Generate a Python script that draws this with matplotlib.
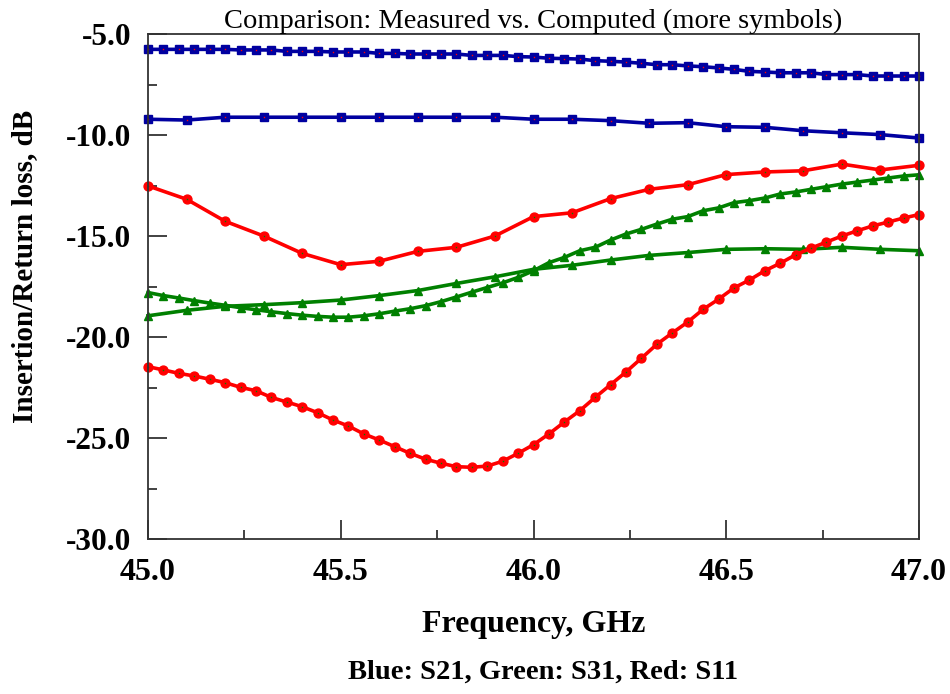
import matplotlib
matplotlib.use("Agg")
import matplotlib.pyplot as plt
from matplotlib.ticker import MultipleLocator, FormatStrFormatter

# ---- data ----
freq_dense = [45.00, 45.04, 45.08, 45.12, 45.16, 45.20, 45.24, 45.28, 45.32, 45.36,
              45.40, 45.44, 45.48, 45.52, 45.56, 45.60, 45.64, 45.68, 45.72, 45.76,
              45.80, 45.84, 45.88, 45.92, 45.96, 46.00, 46.04, 46.08, 46.12, 46.16,
              46.20, 46.24, 46.28, 46.32, 46.36, 46.40, 46.44, 46.48, 46.52, 46.56,
              46.60, 46.64, 46.68, 46.72, 46.76, 46.80, 46.84, 46.88, 46.92, 46.96, 47.00]
freq_sparse = [45.0, 45.1, 45.2, 45.3, 45.4, 45.5, 45.6, 45.7, 45.8, 45.9, 46.0,
               46.1, 46.2, 46.3, 46.4, 46.5, 46.6, 46.7, 46.8, 46.9, 47.0]

s21_computed = [-5.76, -5.76, -5.76, -5.76, -5.76, -5.76, -5.79, -5.79, -5.79, -5.86,
                -5.86, -5.86, -5.89, -5.89, -5.89, -5.96, -5.96, -5.99, -5.99, -5.99,
                -5.99, -6.06, -6.06, -6.06, -6.12, -6.14, -6.20, -6.22, -6.24, -6.32,
                -6.35, -6.39, -6.45, -6.52, -6.52, -6.58, -6.62, -6.68, -6.75, -6.85,
                -6.88, -6.92, -6.92, -6.92, -7.01, -7.01, -7.01, -7.08, -7.08, -7.08, -7.08]
s21_measured = [-9.22, -9.26, -9.12, -9.12, -9.12, -9.12, -9.12, -9.12, -9.12, -9.12, -9.22,
                -9.22, -9.29, -9.42, -9.39, -9.59, -9.62, -9.79, -9.89, -9.98, -10.15]

s31_computed = [-17.80, -17.95, -18.07, -18.20, -18.32, -18.43, -18.55, -18.65, -18.75, -18.84,
                -18.92, -18.98, -19.02, -19.02, -18.95, -18.85, -18.72, -18.60, -18.45, -18.25,
                -18.02, -17.78, -17.55, -17.32, -17.05, -16.72, -16.32, -16.06, -15.73, -15.56,
                -15.20, -14.90, -14.67, -14.41, -14.17, -14.04, -13.75, -13.61, -13.35, -13.25,
                -13.12, -12.92, -12.82, -12.69, -12.56, -12.43, -12.33, -12.23, -12.13, -12.03, -11.97]
s31_measured = [-18.95, -18.68, -18.48, -18.40, -18.30, -18.17, -17.95, -17.70, -17.35, -17.02, -16.65,
                -16.45, -16.19, -15.96, -15.82, -15.66, -15.63, -15.66, -15.56, -15.66, -15.73]

s11_computed = [-21.47, -21.63, -21.80, -21.93, -22.09, -22.26, -22.49, -22.66, -22.99, -23.22,
                -23.45, -23.75, -24.11, -24.41, -24.80, -25.10, -25.43, -25.76, -26.05, -26.25,
                -26.42, -26.45, -26.39, -26.15, -25.76, -25.33, -24.80, -24.21, -23.65, -22.99,
                -22.36, -21.73, -21.05, -20.36, -19.80, -19.26, -18.63, -18.13, -17.57, -17.18,
                -16.72, -16.35, -15.93, -15.60, -15.30, -15.00, -14.74, -14.50, -14.31, -14.11, -13.94]
s11_measured = [-12.52, -13.18, -14.27, -15.00, -15.86, -16.42, -16.25, -15.76, -15.56, -15.00, -14.04,
                -13.85, -13.15, -12.69, -12.46, -11.96, -11.83, -11.77, -11.44, -11.73, -11.50]

title = "Comparison: Measured vs. Computed (more symbols)"
xlabel = "Frequency, GHz"
ylabel = "Insertion/Return loss, dB"
footer = "Blue: S21, Green: S31, Red: S11"

BLUE = "#0000A0"
GREEN = "#008000"
RED = "#FF0000"

plt.rcParams['font.family'] = ['Liberation Serif', 'DejaVu Serif']

fig = plt.figure(figsize=(9.5, 6.94), dpi=100)
ax = fig.add_axes([148/950, 1-539/694, (919-148)/950, (539-34)/694])

lw = 2.6
ms = 6.4

def series(x, y, color, marker, dot):
    ax.plot(x, y, color=color, lw=lw, marker=marker, ms=ms, mec=color, mfc=color,
            clip_on=False, solid_joinstyle='round')
    if dot is not None:
        ax.plot(x, y, ls='none', marker='s', ms=1.0, mec=dot, mfc=dot, mew=0, clip_on=False)

series(freq_dense, s21_computed, BLUE, 's', RED)
series(freq_sparse, s21_measured, BLUE, 's', RED)
series(freq_dense, s31_computed, GREEN, '^', None)
series(freq_sparse, s31_measured, GREEN, '^', None)
series(freq_dense, s11_computed, RED, 'o', GREEN)
series(freq_sparse, s11_measured, RED, 'o', GREEN)

ax.set_xlim(45.0, 47.0)
ax.set_ylim(-30.0, -5.0)
ax.xaxis.set_major_locator(MultipleLocator(0.5))
ax.xaxis.set_minor_locator(MultipleLocator(0.25))
ax.yaxis.set_major_locator(MultipleLocator(5.0))
ax.yaxis.set_minor_locator(MultipleLocator(2.5))
ax.xaxis.set_major_formatter(FormatStrFormatter('%.1f'))
ax.yaxis.set_major_formatter(FormatStrFormatter('%.1f'))

ax.tick_params(which='both', direction='in', top=False, right=False, width=1.3, color='#333333')
ax.tick_params(which='major', length=13.5)
ax.tick_params(which='minor', length=6.5)
ax.tick_params(axis='y', which='major', pad=12)
ax.tick_params(axis='x', which='major', pad=14)
for lab in ax.get_xticklabels():
    lab.set_fontsize(23)
    lab.set_fontweight('bold')
for lab in ax.get_yticklabels():
    lab.set_fontsize(22.5)
    lab.set_fontweight('bold')

for sp in ax.spines.values():
    sp.set_linewidth(1.3)
    sp.set_color('#333333')

ax.set_title(title, fontsize=20.5, pad=3)
ax.set_xlabel(xlabel, fontsize=23, fontweight='bold', labelpad=16)
ax.set_ylabel(ylabel, fontsize=21, fontweight='bold')
ax.yaxis.set_label_coords((38 - 148) / 771, (539 - 266) / 505)
fig.text(543/950, 1-672/694, footer, fontsize=20.5, fontweight='bold', ha='center', va='center')

fig.savefig("out.png", dpi=100)
